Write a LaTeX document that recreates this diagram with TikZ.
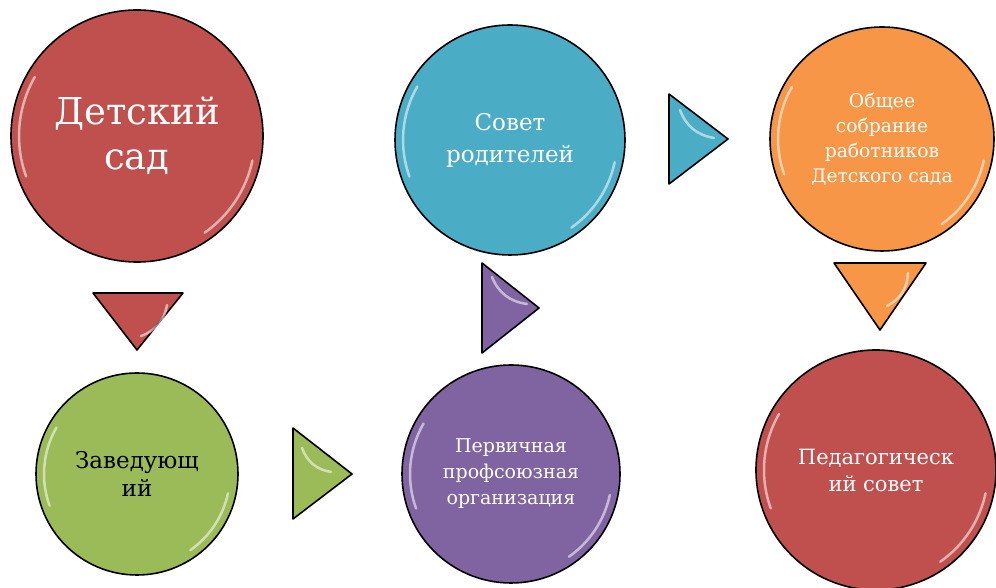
\documentclass[tikz,border=0pt]{standalone}
\usepackage{fontspec}
\setmainfont{DejaVu Serif}
\definecolor{redc}{HTML}{C0504D}
\definecolor{greenc}{HTML}{9BBB59}
\definecolor{purplec}{HTML}{8064A2}
\definecolor{bluec}{HTML}{4BACC6}
\definecolor{orangec}{HTML}{F79646}
\begin{document}
\begin{tikzpicture}[x=1pt,y=1pt,
    ball/.style={circle,draw=black,line width=1.6pt,align=center,text=white,inner sep=0pt},
    tri/.style={draw=black,line width=1.6pt,line join=round},
    gloss/.style={white,line width=2.5pt,opacity=0.55,line cap=round}]
  \useasboundingbox (0,0) rectangle (996,588);
  \node[ball,fill=redc,minimum size=252pt,font=\fontsize{37}{45}\selectfont] (sad) at (137,452) {Детский\\сад};
  \node[ball,fill=greenc,minimum size=202pt,text=black,font=\fontsize{23}{28}\selectfont] (zav) at (137,114) {Заведующ\\ий};
  \node[ball,fill=purplec,minimum size=218pt,font=\fontsize{19}{26}\selectfont] (prof) at (511,114) {Первичная\\профсоюзная\\организация};
  \node[ball,fill=bluec,minimum size=230pt,font=\fontsize{23}{32}\selectfont] (sov) at (510,448) {Совет\\родителей};
  \node[ball,fill=orangec,minimum size=224pt,font=\fontsize{18.7}{25}\selectfont] (obs) at (882,449) {Общее\\собрание\\работников\\Детского сада};
  \node[ball,fill=redc,minimum size=240pt,font=\fontsize{21}{27}\selectfont] (ped) at (876,118) {Педагогическ\\ий совет};
  % gloss on the balls
  \foreach \n/\r in {sad/126,zav/101,prof/109,sov/115,obs/112,ped/120}{
    \draw[gloss] (\n.center) ++(150:\r-8) arc[start angle=150,end angle=200,radius=\r-8];
    \draw[gloss] (\n.center) ++(-12:\r-8) arc[start angle=-12,end angle=-55,radius=\r-8];
  }
  % arrows between the balls
  \coordinate (t1) at (137,238);
  \coordinate (t2) at (352,114);
  \coordinate (t3) at (539,280);
  \coordinate (t4) at (728,449);
  \coordinate (t5) at (880,258);
  \draw[tri,fill=redc] (t1) -- ++(-44,57) -- ++(90,0) -- cycle;
  \draw[tri,fill=greenc] (t2) -- ++(-59,46) -- ++(0,-91) -- cycle;
  \draw[tri,fill=purplec] (t3) -- ++(-57,45) -- ++(0,-90) -- cycle;
  \draw[tri,fill=bluec] (t4) -- ++(-59,45) -- ++(0,-90) -- cycle;
  \draw[tri,fill=orangec] (t5) -- ++(-46,67) -- ++(92,0) -- cycle;
  % gloss on the arrows
  \draw[gloss] (167,283) to[bend left] (141,252);
  \draw[gloss] (302,140) to[bend right] (331,116);
  \draw[gloss] (492,311) to[bend right] (527,284);
  \draw[gloss] (680,478) to[bend right] (714,450);
  \draw[gloss] (908,315) to[bend left] (887,282);
\end{tikzpicture}
\end{document}
